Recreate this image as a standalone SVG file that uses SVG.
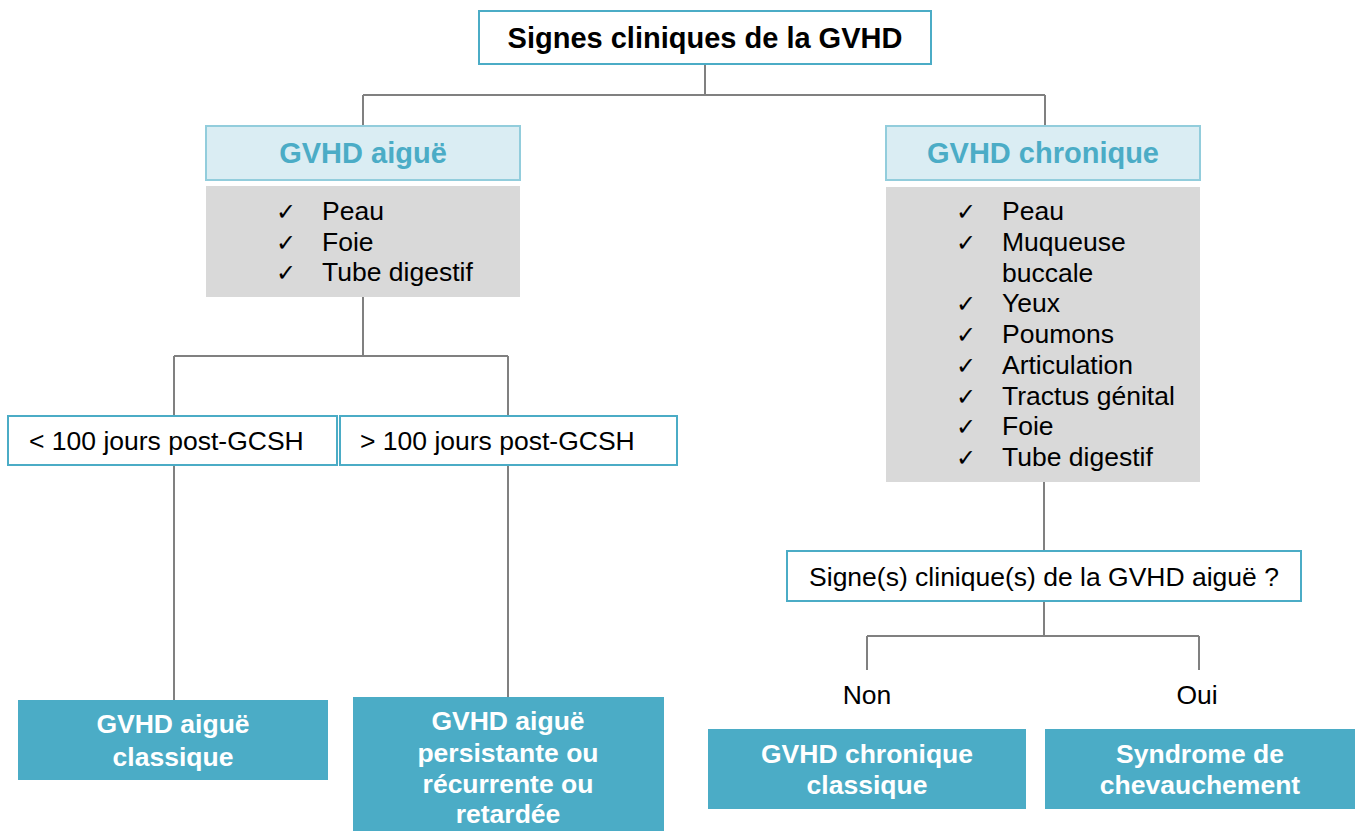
<svg xmlns="http://www.w3.org/2000/svg" width="1357" height="831" viewBox="0 0 1357 831">
<style>
.conn{fill:none;stroke:#808080;stroke-width:2}
.wbox{fill:#fff;stroke:#4bacc6;stroke-width:2}
.hbox{fill:#daedf3;stroke:#92cddc;stroke-width:2}
.gbox{fill:#d9d9d9}
.tbox{fill:#4bacc6}
text{font-family:"Liberation Sans",Arial,sans-serif;fill:#000}
.title{font-size:29px;font-weight:bold;text-anchor:middle}
.head{font-size:29px;font-weight:bold;fill:#4bacc6;text-anchor:middle}
.item{font-size:26.5px}
.chk{font-size:24px}
.lbl{font-size:26.5px}
.wt{font-size:26.5px;font-weight:bold;fill:#fff;text-anchor:middle}
</style>
<rect width="1357" height="831" fill="#fff"/>
<g id="connectors">
<path class="conn" d="M705 64V95M363 95H1045M363 95V126M1045 95V126"/>
<path class="conn" d="M363 297V356M174 356H508M174 356V416M508 356V416"/>
<path class="conn" d="M174 465V700M508 465V697"/>
<path class="conn" d="M1044 482V551M1044 601V636M867 636H1199M867 636V670M1199 636V670"/>
</g>
<g id="root">
<rect class="wbox" x="479" y="11" width="452" height="53"/>
<text class="title" x="705" y="48">Signes cliniques de la GVHD</text>
</g>
<g id="aigue">
<rect class="hbox" x="206" y="126" width="314" height="54"/>
<text class="head" x="363" y="163">GVHD aiguë</text>
</g>
<g id="aigue-list">
<rect class="gbox" x="206" y="186" width="314" height="111"/>
<text class="chk" x="276" y="220">✓</text><text class="item" x="322" y="220">Peau</text>
<text class="chk" x="276" y="251">✓</text><text class="item" x="322" y="251">Foie</text>
<text class="chk" x="276" y="281">✓</text><text class="item" x="322" y="281">Tube digestif</text>
</g>
<g id="chronique">
<rect class="hbox" x="886" y="126" width="314" height="54"/>
<text class="head" x="1043" y="163">GVHD chronique</text>
</g>
<g id="chronique-list">
<rect class="gbox" x="886" y="187" width="314" height="295"/>
<text class="chk" x="956" y="220">✓</text><text class="item" x="1002" y="220">Peau</text>
<text class="chk" x="956" y="251">✓</text><text class="item" x="1002" y="251">Muqueuse</text>
<text class="item" x="1002" y="282">buccale</text>
<text class="chk" x="956" y="312">✓</text><text class="item" x="1002" y="312">Yeux</text>
<text class="chk" x="956" y="343">✓</text><text class="item" x="1002" y="343">Poumons</text>
<text class="chk" x="956" y="374">✓</text><text class="item" x="1002" y="374">Articulation</text>
<text class="chk" x="956" y="405">✓</text><text class="item" x="1002" y="405">Tractus génital</text>
<text class="chk" x="956" y="435">✓</text><text class="item" x="1002" y="435">Foie</text>
<text class="chk" x="956" y="466">✓</text><text class="item" x="1002" y="466">Tube digestif</text>
</g>
<g id="lt100">
<rect class="wbox" x="8" y="416" width="329" height="49"/>
<text class="lbl" x="29" y="450">&lt; 100 jours post-GCSH</text>
</g>
<g id="gt100">
<rect class="wbox" x="340" y="416" width="337" height="49"/>
<text class="lbl" x="360" y="450">&gt; 100 jours post-GCSH</text>
</g>
<g id="aigue-classique">
<rect class="tbox" x="18" y="700" width="310" height="80"/>
<text class="wt" x="173" y="733">GVHD aiguë</text>
<text class="wt" x="173" y="766">classique</text>
</g>
<g id="aigue-persistante">
<rect class="tbox" x="353" y="697" width="311" height="134"/>
<text class="wt" x="508" y="730">GVHD aiguë</text>
<text class="wt" x="508" y="762">persistante ou</text>
<text class="wt" x="508" y="793">récurrente ou</text>
<text class="wt" x="508" y="823">retardée</text>
</g>
<g id="question">
<rect class="wbox" x="787" y="551" width="514" height="50"/>
<text class="lbl" x="1044" y="586" text-anchor="middle">Signe(s) clinique(s) de la GVHD aiguë ?</text>
</g>
<g id="non"><text class="lbl" x="867" y="704" text-anchor="middle">Non</text></g>
<g id="oui"><text class="lbl" x="1197" y="704" text-anchor="middle">Oui</text></g>
<g id="chronique-classique">
<rect class="tbox" x="708" y="729" width="318" height="80"/>
<text class="wt" x="867" y="763">GVHD chronique</text>
<text class="wt" x="867" y="794">classique</text>
</g>
<g id="chevauchement">
<rect class="tbox" x="1045" y="729" width="310" height="80"/>
<text class="wt" x="1200" y="763">Syndrome de</text>
<text class="wt" x="1200" y="794">chevauchement</text>
</g>
</svg>
